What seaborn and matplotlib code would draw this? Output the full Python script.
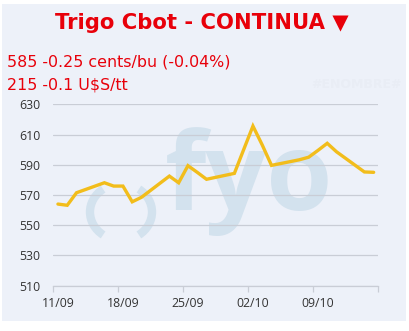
import matplotlib
matplotlib.use("Agg")
import matplotlib.pyplot as plt
import matplotlib.transforms as mtransforms
from matplotlib.patches import Rectangle, Arc
import seaborn as sns
import pandas as pd

# ---- data ----
fechas = ["2019-09-11", "2019-09-12", "2019-09-13",
          "2019-09-16", "2019-09-17", "2019-09-18", "2019-09-19", "2019-09-20",
          "2019-09-23", "2019-09-24", "2019-09-25", "2019-09-26", "2019-09-27",
          "2019-09-30", "2019-10-01", "2019-10-02", "2019-10-03", "2019-10-04",
          "2019-10-07", "2019-10-08", "2019-10-09", "2019-10-10", "2019-10-11",
          "2019-10-14", "2019-10-15"]
valores = [564.0, 563.2, 571.5,
           578.1, 575.9, 575.9, 565.5, 568.5,
           582.5, 578.1, 589.4, 585.0, 580.4,
           584.3, 600.0, 615.6, 603.1, 589.6,
           593.3, 595.0, 599.5, 604.2, 598.6,
           585.25, 585.0]
tick_fechas = ["2019-09-11", "2019-09-18", "2019-09-25", "2019-10-02", "2019-10-09", "2019-10-16"]
tick_labels = ["11/09", "18/09", "25/09", "02/10", "09/10", ""]
y_ticks = [510, 530, 550, 570, 590, 610, 630]

titulo = "Trigo Cbot - CONTINUA ▼"
linea1 = "585 -0.25 cents/bu (-0.04%)"
linea2 = "215 -0.1 U$S/tt"

df = pd.DataFrame({"fecha": pd.to_datetime(fechas) + pd.Timedelta(hours=12),
                   "valor": valores})

sns.set_theme(style="white")
plt.rcParams["font.family"] = ["DejaVu Sans"]

W, H = 409, 331
fig = plt.figure(figsize=(W / 100, H / 100), dpi=100)
fig.patch.set_facecolor("white")
bg = "#edf1f9"
fig.patches.append(Rectangle((2 / W, 1 - 321 / H), 404 / W, 317 / H,
                             transform=fig.transFigure, facecolor=bg,
                             edgecolor="none", zorder=0))

# watermark logo
wm = "#d3e2ee"
fig.text(249 / W, 1 - 210 / H, "fyo", fontsize=77, fontweight="bold",
         family=["Open Sans"], color=wm, ha="center", va="baseline", zorder=1)
pix = mtransforms.Affine2D().scale(1 / W, 1 / H) + fig.transFigure
for t1, t2 in [(128, 232), (-52, 52)]:
    fig.patches.append(Arc((121, H - 212), 62, 56, theta1=t1, theta2=t2,
                           transform=pix, color=wm, linewidth=6, zorder=1))
fig.text(402 / W, 1 - 88 / H, "#ENOMBRE#", fontsize=9, fontweight="bold",
         color="#e9edf5", ha="right", va="baseline", zorder=1)

left, right = 53.3 / W, 378.3 / W
bottom, top = 1 - 285.7 / H, 1 - 104.3 / H
ax = fig.add_axes([left, bottom, right - left, top - bottom])
ax.set_facecolor("none")
ax.set_zorder(2)

sns.lineplot(data=df, x="fecha", y="valor", ax=ax, color="#f2bd1b",
             linewidth=2.4, solid_joinstyle="miter")

ax.set_xlim(pd.Timestamp("2019-09-11"), pd.Timestamp("2019-10-16"))
ax.set_ylim(510, 630)
ax.set_yticks(y_ticks)
ax.set_xticks(pd.to_datetime(tick_fechas))
ax.set_xticklabels(tick_labels)
ax.set_xlabel("")
ax.set_ylabel("")

gridc = "#c9cdd6"
ax.grid(axis="y", color=gridc, linewidth=0.9)
ax.grid(axis="x", visible=False)
for s in ["top", "right", "left"]:
    ax.spines[s].set_visible(False)
ax.spines["bottom"].set_color(gridc)
ax.spines["bottom"].set_linewidth(0.9)
ax.tick_params(axis="x", length=4, width=0.9, color=gridc, pad=4,
               labelsize=8.8, labelcolor="#333333", direction="out", bottom=True)
ax.tick_params(axis="y", length=0, pad=9.5, labelsize=8.8, labelcolor="#333333")
for lab in ax.get_xticklabels() + ax.get_yticklabels():
    lab.set_family(["Open Sans"])
off = mtransforms.ScaledTranslation(4.6 / 100, 0, fig.dpi_scale_trans)
for lab in ax.get_xticklabels():
    lab.set_transform(lab.get_transform() + off)

red = "#e8000a"
fig.text(201.5 / W, 1 - 29.3 / H, titulo, fontsize=15.2, fontweight="bold",
         color=red, ha="center", va="baseline")
fig.text(7 / W, 1 - 66.7 / H, linea1, fontsize=11.4, color=red,
         ha="left", va="baseline")
fig.text(7 / W, 1 - 89.3 / H, linea2, fontsize=11.4, color=red,
         ha="left", va="baseline")

fig.savefig("out.png", dpi=100, facecolor="white")
